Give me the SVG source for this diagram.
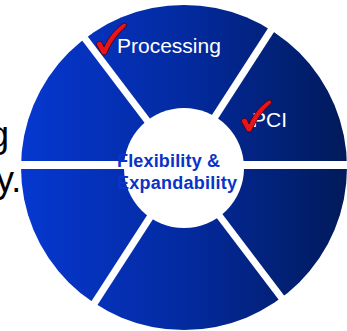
<svg xmlns="http://www.w3.org/2000/svg" width="347" height="331" viewBox="0 0 347 331">
<defs>
<linearGradient id="wheelGrad" x1="0" y1="0" x2="1" y2="0">
<stop offset="0" stop-color="#0638d0"/>
<stop offset="0.5" stop-color="#032aa0"/>
<stop offset="1" stop-color="#011a5a"/>
</linearGradient>
<path id="check" d="M96,44 C98,40.5 101,40.5 102.5,43.5 L104,47 C108.5,37 115,29.5 122.5,24 C125.5,22 128,24.5 125.5,27 C117,34.5 110.5,44 107,53 C105.5,55.5 102.5,55.5 101.5,53.5 Z"/>
<style>
.spoke{stroke:#ffffff;stroke-width:7;fill:none}
.lbl{font-family:"Liberation Sans",Arial,sans-serif;font-size:21px;fill:#ffffff}
.ctr{font-family:"Liberation Sans",Arial,sans-serif;font-size:18px;font-weight:bold;fill:#0a33c8}
.side{font-family:"Liberation Sans",Arial,sans-serif;font-size:36px;fill:#000000}
.chk{fill:#e8141c;stroke:#3a0000;stroke-width:0.8}
</style>
</defs>
<text class="side" x="-11" y="147">g</text>
<text class="side" x="-4" y="192">y.</text>
<g id="wheel">
<ellipse cx="184" cy="167.5" rx="163" ry="162.5" fill="url(#wheelGrad)"/>
</g>
<g id="connectors">
<line class="spoke" x1="18" y1="165" x2="347" y2="165" style="stroke-width:8"/>
<line class="spoke" x1="80" y1="32" x2="287" y2="305"/>
<line class="spoke" x1="275" y1="24" x2="90" y2="310"/>
</g>
<g id="center">
<circle cx="184" cy="168" r="60" fill="#ffffff"/>
<text class="ctr" x="117" y="167" textLength="103">Flexibility &amp;</text>
<text class="ctr" x="117" y="189" textLength="120">Expandability</text>
</g>
<g id="processing">
<use href="#check" class="chk"/>
<text class="lbl" x="117" y="53">Processing</text>
</g>
<g id="pci">
<text class="lbl" x="252" y="127">PCI</text>
<use href="#check" class="chk" transform="translate(145,77)"/>
</g>
</svg>
